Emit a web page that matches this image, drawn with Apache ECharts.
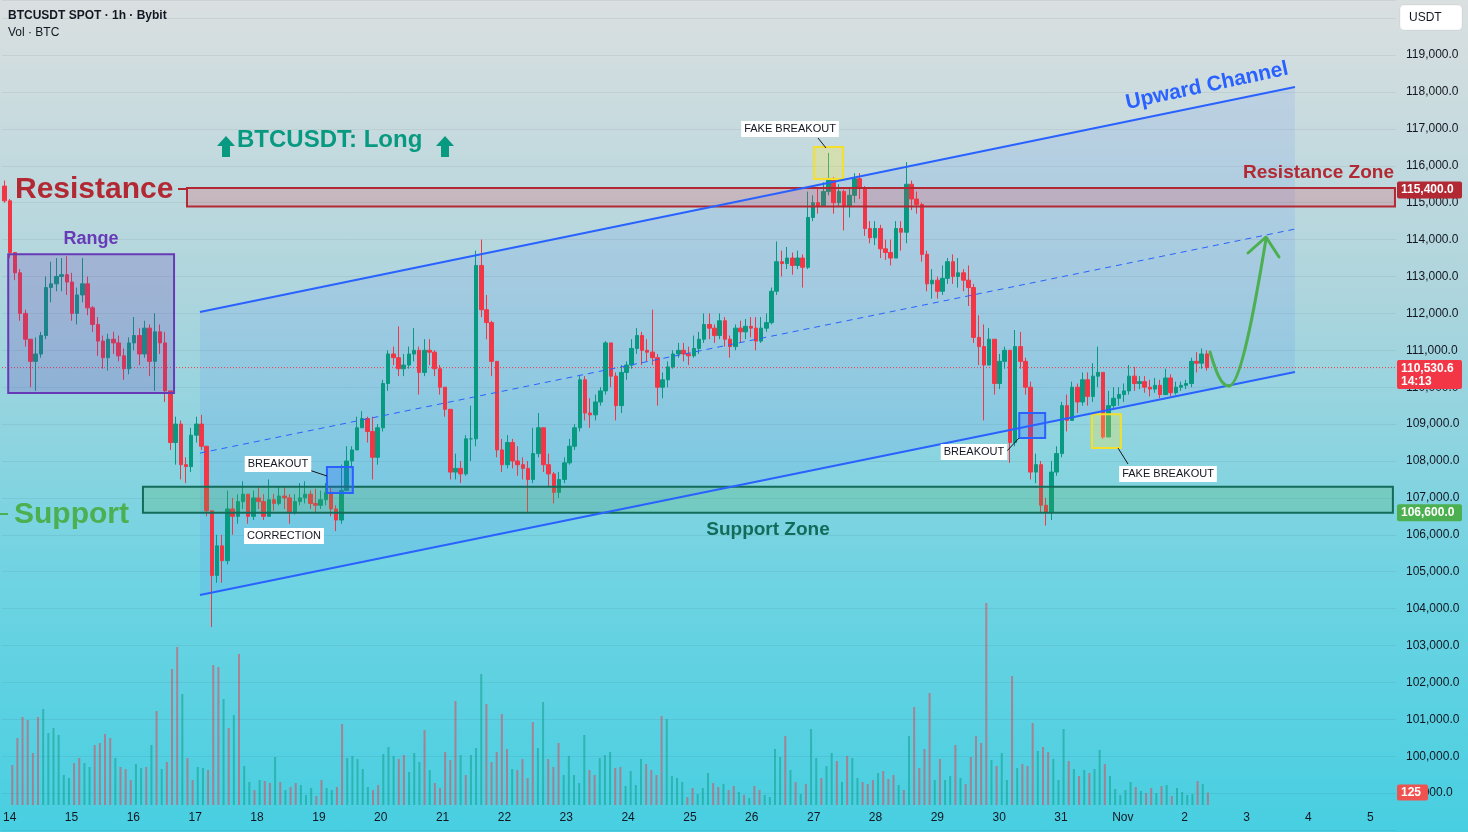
<!DOCTYPE html>
<html>
<head>
<meta charset="utf-8">
<title>BTCUSDT SPOT 1h</title>
<script src="https://cdn.jsdelivr.net/npm/echarts@6/dist/echarts.min.js"></script>
<style>
  html, body { margin: 0; padding: 0; }
  #chart { width: 1468px; height: 832px; }
</style>
</head>
<body>
<div id="chart"></div>
<script>
// 2h candles, Oct 14 00:00 -> Nov 2 ~10:00
const firstOpen = 115450;
const closes = [
  115050,113650,113100,112000,111300,110700,110900,111400,112700,112800,
  113000,113050,112850,112000,112500,112800,112150,111700,111250,110800,
  111300,111200,110850,110500,111200,111400,110900,111600,110700,111500,
  111200,109900,108500,109000,107900,107850,108700,109000,108400,106650,
  104900,105700,105300,106700,106500,106900,107100,106500,107000,106900,
  106500,106950,106850,107050,107000,106600,106900,107000,107100,106850,
  106800,106950,107150,106700,106400,107200,108000,108300,108900,109150,
  108800,108100,108900,110100,110900,110800,110500,110600,110900,111000,
  110400,111000,110950,110500,110000,109400,107700,107800,107650,108600,
  108600,113300,112100,111750,110700,108300,107900,108500,108000,107900,
  107800,107500,108200,108900,107900,107650,107150,107500,107950,108400,
  108900,110200,109300,109250,109600,109900,111200,110300,109500,110400,
  110600,111050,111400,111000,110950,110800,110000,110200,110550,110900,
  111000,110900,110850,111050,111300,111700,111600,111400,111800,111300,
  111100,111600,111500,111650,111600,111250,111600,111750,112600,113400,
  113350,113500,113300,113500,113250,114600,115000,114900,115300,115650,
  115000,115300,114900,115200,115650,115400,114300,114050,114300,113750,
  113650,113500,114300,114200,115500,115100,114950,113600,112800,112900,
  112600,112950,113400,113000,113100,112900,112700,111350,111100,110600,
  111300,110100,110700,111000,108500,111100,110700,110000,107700,107900,
  106800,106600,107700,108200,109500,109100,110000,109600,110200,109750,
  110300,110400,108650,109500,109700,109800,109900,110300,110100,110150,
  110000,109950,110050,109800,110250,109850,110000,110050,110100,110700,
  110650,110900,110530.6
];
const highs = [
  115600,115100,113650,113200,112100,111300,111350,111500,113000,113400,
  113500,113500,113550,113100,112700,113500,113000,112200,111900,111400,
  111450,111500,111400,111050,111350,111900,111600,111800,111700,112000,
  111700,111500,109900,109200,109100,108100,108900,109200,109250,108400,
  106650,106000,106000,107200,107000,107100,107450,107000,107200,107300,
  107100,107500,107100,107300,107300,107100,107100,107400,107450,107200,
  107250,107200,107400,107300,106800,107900,108400,108400,109200,109350,
  109200,109200,109000,110200,111000,111100,111650,110900,111100,111600,
  111100,111300,111300,111000,110600,110000,109400,108200,108000,108700,
  109500,113700,114000,112500,111800,110700,108600,108700,108600,108400,
  108100,108000,108900,109300,108900,108200,107700,107700,108100,108600,
  109000,110300,110300,109700,109800,110000,111250,111200,110400,110600,
  110700,111300,111600,111500,111300,112100,110900,110400,110700,111000,
  111200,111200,111100,111400,111500,112000,112000,111700,112000,111900,
  111400,111700,111800,111850,111900,111900,111900,112000,112700,113950,
  113700,113800,113650,113700,113600,115300,115200,115400,115550,116350,
  115700,115500,115350,115400,115800,115800,115450,114500,114500,114400,
  114000,114000,114500,114500,116100,115600,115300,115000,113700,113200,
  113000,113300,113500,113600,113500,113200,113300,112800,111950,111700,
  111600,111300,110900,111100,111000,111550,111500,110800,110150,108200,
  108000,107000,108000,108400,109600,109800,110150,110100,110400,110400,
  110650,111100,110400,109900,110000,110000,110100,110600,110550,110300,
  110300,110200,110250,110200,110500,110350,110150,110150,110200,110800,
  110950,111050,111000
];
const lows = [
  115000,113500,112900,111800,111100,110000,109900,110800,111300,112300,
  112600,112600,112500,111800,111700,112300,111950,111500,110850,110500,
  110450,110900,110700,110200,110350,111000,110600,110800,110300,109900,
  110900,109600,108300,107900,107500,107400,107700,108500,108300,106500,
  103500,104700,104700,105200,106000,106300,106700,106300,106400,106700,
  106400,106500,106650,106800,106700,106300,106550,106800,106850,106700,
  106600,106700,106800,106500,106100,106300,107200,107800,108300,108900,
  108500,107500,107900,108800,109900,110600,110300,110300,110500,110700,
  109800,110300,110600,110300,109800,109200,107500,107500,107400,107600,
  108000,108400,111900,111300,110300,108100,107700,107800,107800,107600,
  107500,106600,107400,108100,107700,107300,106850,107000,107400,107900,
  108300,108800,109100,108900,109100,109500,109800,110000,109100,109300,
  110200,110500,110900,110600,110700,110600,109500,109700,110000,110500,
  110800,110700,110600,110800,110900,111200,111300,111200,111300,111100,
  110800,111000,111200,111300,111350,111000,111200,111500,111700,112500,
  113000,113200,113050,113200,112700,113200,114500,114700,114900,115200,
  114700,114900,114250,114600,115000,115100,114100,113900,113850,113500,
  113450,113300,113500,113700,113900,114800,114700,113400,112600,112400,
  112400,112500,112800,112800,112700,112600,112200,111200,110600,109100,
  110600,109800,109950,110500,107950,108400,110500,109800,107500,107400,
  106600,106250,106400,107600,108100,108800,109100,109300,109500,109500,
  109600,110000,108600,108700,109400,109500,109600,109800,109900,109950,
  109850,109750,109850,109700,109800,109750,109800,109900,109950,110000,
  110400,110500,110450
];
// volume in BTC per 2h slot (taller of the two 1h bars)
const volumes = [
  400,670,880,850,520,880,960,720,770,700,
  300,270,420,470,420,380,600,620,710,670,
  470,380,360,250,410,370,380,600,940,360,
  430,1360,1580,1110,470,250,380,370,350,1400,
  1380,1060,770,900,1510,390,230,150,250,240,
  220,480,230,150,180,220,200,100,170,90,
  250,170,150,180,810,470,490,460,360,180,
  150,200,510,580,490,460,500,330,520,430,
  750,350,220,170,530,450,1040,500,300,500,
  570,1310,1010,430,530,910,560,360,350,460,
  270,830,570,1030,460,380,620,300,490,300,
  220,700,350,300,470,500,530,370,380,190,
  340,200,460,410,350,300,890,860,290,270,
  230,80,170,110,170,320,220,180,210,150,
  190,130,100,70,190,150,100,80,560,480,
  690,350,230,110,210,760,470,270,390,520,
  440,230,490,470,270,230,210,250,320,340,
  260,300,200,150,690,980,370,560,1120,250,
  460,250,290,600,270,210,480,690,620,2020,
  450,390,520,250,1290,370,410,390,820,540,
  580,530,460,250,760,440,360,290,350,320,
  360,550,410,290,160,100,150,230,180,140,
  120,170,120,190,200,90,170,130,100,110,
  240,210,125
];
const dayLabels = ['14','15','16','17','18','19','20','21','22','23','24','25',
  '26','27','28','29','30','31','Nov','2','3','4','5'];
const lastPrice = 110530.6;
const countdown = '14:13';
const resistanceZone = [114900, 115400];
const supportZone = [106600, 107300];
const rangeZone = [109840, 113600];
// channel anchors [slot, price]
const channelUpper = [[38.2, 112035], [249.5, 118133]];
const channelLower = [[38.2, 104366], [249.5, 110409]];
const channelMid = [[38.2, 108214], [249.5, 114285]];

const slotsPerDay = 12;
const slotCount = 269;
const up = '#089981', down = '#f23645';
const ink = '#131722';
const font = '"Liberation Sans", Arial, sans-serif';

let prev = firstOpen;
const candles = closes.map((c, i) => {
  const o = prev;
  prev = c;
  return [o, c, Math.min(lows[i], o, c), Math.max(highs[i], o, c)];
});
const volData = volumes.map((v, i) => ({
  value: v,
  itemStyle: { color: candles[i][1] >= candles[i][0] ? 'rgba(8,153,129,0.5)' : 'rgba(242,54,69,0.5)' }
}));
const slots = Array.from({ length: slotCount }, (_, i) => i);

const blue = { fill: 'rgba(41,98,255,0.25)', stroke: '#2962ff' };
const yellow = { fill: 'rgba(255,235,59,0.28)', stroke: '#f4e02c' };
const boxes = [
  { x: [1.2, 33.2], y: rangeZone, fill: 'rgba(103,58,183,0.22)', stroke: '#673ab7' },
  { x: [35.7, 268.8], y: resistanceZone, fill: 'rgba(242,54,69,0.2)', stroke: '#b22833' },
  { x: [27.2, 268.4], y: supportZone, fill: 'rgba(76,175,80,0.22)', stroke: '#136b5a' },
  Object.assign({ x: [62.7, 67.7], y: [107130, 107835] }, blue),
  Object.assign({ x: [196.3, 201.3], y: [108620, 109300] }, blue),
  Object.assign({ x: [156.7, 162.3], y: [115640, 116510] }, yellow),
  Object.assign({ x: [210.3, 215.9], y: [108350, 109270] }, yellow)
];

const chart = echarts.init(document.getElementById('chart'));

const option = {
  animation: false,
  backgroundColor: new echarts.graphic.LinearGradient(0, 0, 0, 1, [
    { offset: 0, color: '#dadfe0' },
    { offset: 0.35, color: '#aed5dd' },
    { offset: 0.7, color: '#6ed3e2' },
    { offset: 1, color: '#47cfe1' }
  ]),
  textStyle: { fontFamily: font },
  grid: [
    { left: 2, right: 72, top: 0, bottom: 2 },     // price
    { left: 2, right: 72, top: 595, bottom: 27 }   // volume + dates
  ],
  xAxis: [
    { type: 'category', gridIndex: 0, data: slots, show: false },
    { type: 'category', gridIndex: 1, data: slots, show: false, position: 'top' },
    {
      // date labels sit on the midnight boundaries
      type: 'value', gridIndex: 1, position: 'bottom', offset: 0,
      min: 0, max: slotCount, interval: slotsPerDay,
      axisLine: { show: false }, axisTick: { show: false }, splitLine: { show: false },
      axisLabel: {
        formatter: (v) => (v % slotsPerDay === 0 && dayLabels[v / slotsPerDay]) || '',
        color: ink, fontSize: 12, margin: 7, fontFamily: font
      }
    },
    { type: 'value', gridIndex: 0, min: 0, max: slotCount, show: false }
  ],
  yAxis: [
    {
      type: 'value', gridIndex: 0, position: 'right',
      min: 98000, max: 120493, interval: 1000,
      axisLine: { show: false }, axisTick: { show: false },
      axisLabel: {
        margin: 10, color: ink, fontSize: 12, fontFamily: font,
        formatter: (v) => (v < 99000 || v > 119000 || v % 1000) ? '' :
          v.toLocaleString('en-US', { minimumFractionDigits: 1 })
      },
      splitLine: { lineStyle: { color: 'rgba(42,46,57,0.07)' } }
    },
    { type: 'value', gridIndex: 1, min: 0, max: 2100, show: false }
  ],
  series: [
    {
      // shaded channel body
      type: 'custom', xAxisIndex: 3, yAxisIndex: 0, z: 1, silent: true,
      data: [channelUpper[0]],
      renderItem: (params, api) => ({
        type: 'polygon',
        shape: { points: [
          api.coord(channelUpper[0]), api.coord(channelUpper[1]),
          api.coord(channelLower[1]), api.coord(channelLower[0])
        ] },
        style: { fill: 'rgba(41,98,255,0.09)' }
      })
    },
    {
      type: 'bar', xAxisIndex: 1, yAxisIndex: 1, data: volData,
      barWidth: 2, z: 2, silent: true
    },
    {
      // last price line
      type: 'line', xAxisIndex: 3, yAxisIndex: 0, z: 2, silent: true, symbol: 'none',
      data: [[0, lastPrice], [slotCount, lastPrice]],
      lineStyle: { color: down, width: 1, type: [1, 2] }
    },
    {
      type: 'candlestick', xAxisIndex: 0, yAxisIndex: 0, data: candles,
      barWidth: 4, z: 3,
      itemStyle: { color: up, color0: down, borderColor: up, borderColor0: down, borderWidth: 1 }
    },
    {
      type: 'custom', xAxisIndex: 3, yAxisIndex: 0, z: 5, silent: true,
      data: boxes.map(b => [b.x[0], b.y[0]]),
      renderItem: (params, api) => {
        const b = boxes[params.dataIndex];
        const p1 = api.coord([b.x[0], b.y[1]]);
        const p2 = api.coord([b.x[1], b.y[0]]);
        return {
          type: 'rect',
          shape: { x: p1[0], y: p1[1], width: p2[0] - p1[0], height: p2[1] - p1[1] },
          style: { fill: b.fill, stroke: b.stroke, lineWidth: 2 }
        };
      }
    },
    {
      type: 'line', xAxisIndex: 3, yAxisIndex: 0, data: channelUpper, z: 6,
      symbol: 'none', silent: true, lineStyle: { color: '#2962ff', width: 2 }
    },
    {
      type: 'line', xAxisIndex: 3, yAxisIndex: 0, data: channelLower, z: 6,
      symbol: 'none', silent: true, lineStyle: { color: '#2962ff', width: 2 }
    },
    {
      type: 'line', xAxisIndex: 3, yAxisIndex: 0, data: channelMid, z: 6,
      symbol: 'none', silent: true, lineStyle: { color: '#2962ff', width: 1, type: [6, 5] }
    }
  ]
};
chart.setOption(option);

// pixel rows of the tagged prices on the right axis
const yOf = (p) => chart.convertToPixel({ yAxisIndex: 0 }, p);
const yVol = chart.convertToPixel({ yAxisIndex: 1 }, volumes[volumes.length - 1]);

function badge(y, h, color, lines, w) {
  const els = [{ type: 'rect', shape: { x: 1397, y: y - h / 2, width: w || 65, height: h, r: 2 }, style: { fill: color }, z: 100 }];
  lines.forEach((t, i) => els.push({
    type: 'text', z: 101,
    style: { x: 1401, y: y - h / 2 + 8.5 + i * 13, text: t, fill: '#fff', font: 'bold 12px ' + font, textVerticalAlign: 'middle' }
  }));
  return els;
}
function tag(text, cx, cy) {
  return {
    type: 'text', z: 100,
    style: {
      x: cx, y: cy, text, fill: ink, font: '11px ' + font,
      textAlign: 'center', textVerticalAlign: 'middle',
      backgroundColor: '#fff', padding: [3, 3, 2, 3]
    }
  };
}
function connector(x1, y1, x2, y2) {
  return { type: 'line', z: 99, shape: { x1, y1, x2, y2 }, style: { stroke: ink, lineWidth: 1 } };
}
function arrowUp(cx) {
  return {
    type: 'polygon', z: 100,
    shape: { points: [[cx, 136], [cx + 9, 146], [cx + 4, 146], [cx + 4, 157], [cx - 4, 157], [cx - 4, 146], [cx - 9, 146]] },
    style: { fill: up }
  };
}

const graphic = [
  { type: 'text', z: 100, style: { x: 8, y: 16, text: 'BTCUSDT SPOT · 1h · Bybit', font: 'bold 12px ' + font, fill: ink, textVerticalAlign: 'middle' } },
  { type: 'text', z: 100, style: { x: 8, y: 33, text: 'Vol · BTC', font: '12px ' + font, fill: ink, textVerticalAlign: 'middle' } },
  { type: 'rect', z: 100, shape: { x: 1400, y: 5, width: 62, height: 25, r: 4 }, style: { fill: '#fff', stroke: 'rgba(0,0,0,0.06)' } },
  { type: 'text', z: 101, style: { x: 1409, y: 17.5, text: 'USDT', font: '12px ' + font, fill: ink, textVerticalAlign: 'middle' } },

  { type: 'line', z: 99, shape: { x1: 178, y1: 189, x2: 187, y2: 189 }, style: { stroke: '#b22833', lineWidth: 2 } },
  { type: 'text', z: 100, style: { x: 15, y: 190, text: 'Resistance', font: 'bold 30px ' + font, fill: '#b22833', textVerticalAlign: 'middle' } },
  { type: 'text', z: 100, style: { x: 91, y: 239, text: 'Range', font: 'bold 18px ' + font, fill: '#673ab7', textAlign: 'center', textVerticalAlign: 'middle' } },
  { type: 'line', z: 99, shape: { x1: 0, y1: 514, x2: 8, y2: 514 }, style: { stroke: '#4caf50', lineWidth: 2 } },
  { type: 'text', z: 100, style: { x: 14, y: 515, text: 'Support', font: 'bold 30px ' + font, fill: '#4caf50', textVerticalAlign: 'middle' } },
  arrowUp(226),
  { type: 'text', z: 100, style: { x: 237, y: 140, text: 'BTCUSDT: Long', font: 'bold 24px ' + font, fill: up, textVerticalAlign: 'middle' } },
  arrowUp(445),
  { type: 'text', z: 100, x: 1207, y: 86, rotation: 0.21, style: { x: 0, y: 0, text: 'Upward Channel', font: 'bold 21px ' + font, fill: '#2962ff', textAlign: 'center', textVerticalAlign: 'middle' } },
  { type: 'text', z: 100, style: { x: 1394, y: 173, text: 'Resistance Zone', font: 'bold 19px ' + font, fill: '#b22833', textAlign: 'right', textVerticalAlign: 'middle' } },
  { type: 'text', z: 100, style: { x: 768, y: 530, text: 'Support Zone', font: 'bold 19px ' + font, fill: '#136b5a', textAlign: 'center', textVerticalAlign: 'middle' } },

  tag('FAKE BREAKOUT', 790, 129), connector(818, 138, 826, 148),
  tag('BREAKOUT', 278, 464), connector(309, 470, 327, 476),
  tag('CORRECTION', 284, 536),
  tag('BREAKOUT', 974, 452), connector(1006, 452, 1019, 438),
  tag('FAKE BREAKOUT', 1168, 474), connector(1118, 448, 1128, 464),

  // projected move
  { type: 'bezierCurve', z: 99, shape: { x1: 1210, y1: 352, cpx1: 1216, cpy1: 372, cpx2: 1221, cpy2: 386, x2: 1229, y2: 386 }, style: { stroke: '#4caf50', lineWidth: 3, fill: null, lineCap: 'round' } },
  { type: 'bezierCurve', z: 99, shape: { x1: 1229, y1: 386, cpx1: 1241, cpy1: 386, cpx2: 1256, cpy2: 300, x2: 1266, y2: 239 }, style: { stroke: '#4caf50', lineWidth: 3, fill: null, lineCap: 'round' } },
  { type: 'polyline', z: 99, shape: { points: [[1248, 253], [1266, 237], [1279, 257]] }, style: { stroke: '#4caf50', lineWidth: 3, fill: null, lineCap: 'round', lineJoin: 'round' } }
]
  .concat(badge(yOf(resistanceZone[1]) + 2, 17, '#b22833', ['115,400.0']))
  .concat(badge(yOf(lastPrice) + 7, 29, '#f23645', [lastPrice.toLocaleString('en-US', { minimumFractionDigits: 1 }), countdown]))
  .concat(badge(yOf(supportZone[0]), 17, '#4caf50', ['106,600.0']))
  .concat(badge(yVol, 16, '#ef5350', [String(volumes[volumes.length - 1])], 31));

chart.setOption({ graphic });
</script>
</body>
</html>
